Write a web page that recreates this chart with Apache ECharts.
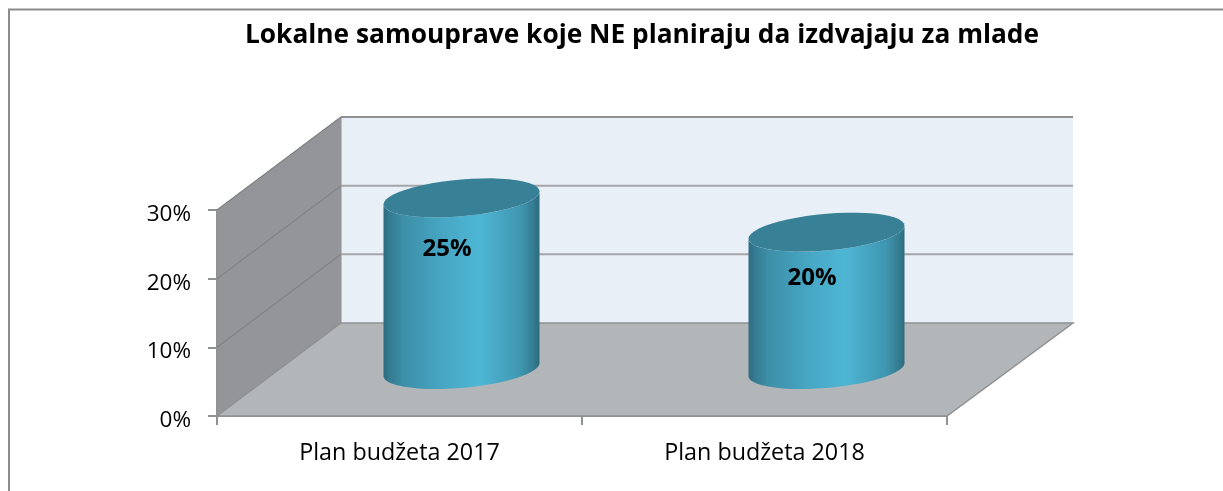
<!DOCTYPE html>
<html>
<head>
<meta charset="utf-8">
<script src="https://cdn.jsdelivr.net/npm/echarts@6/dist/echarts.min.js"></script>
<style>
  html, body { margin: 0; padding: 0; background: #fff; }
  #chart { width: 1223px; height: 491px; }
</style>
</head>
<body>
<div id="chart"></div>
<script>
const categories = ['Plan budžeta 2017', 'Plan budžeta 2018'];
const values = [0.25, 0.2];
const yTicks = [0, 0.1, 0.2, 0.3];
const titleText = 'Lokalne samouprave koje NE planiraju da izdvajaju za mlade';

// how far the back wall is pushed from the front plane
const depthX = 124;
const depthY = -93;
const backExtra = 2;
const lineColor = '#8f9193';
const labelNudge = [5, -1];

const chart = echarts.init(document.getElementById('chart'), null, { renderer: 'canvas' });

function renderRoom(params, api) {
  const yMax = yTicks[yTicks.length - 1];
  const frontL = api.coord([0, 0]);
  const bandW = api.size([1, 0])[0];
  const x0 = frontL[0] - bandW / 2;
  const x1 = x0 + bandW * categories.length;
  const y0 = frontL[1];
  const yTop = api.coord([0, yMax])[1];
  const backR = x1 + depthX + backExtra;
  const children = [
    // back wall
    { type: 'rect', shape: { x: x0 + depthX, y: yTop + depthY, width: backR - x0 - depthX, height: y0 - yTop },
      style: { fill: '#e8eff7' } },
    // left wall
    { type: 'polygon', shape: { points: [[x0, y0], [x0, yTop], [x0 + depthX, yTop + depthY], [x0 + depthX, y0 + depthY]] },
      style: { fill: '#939598', stroke: lineColor, lineWidth: 1 } },
    // floor
    { type: 'polygon', shape: { points: [[x0, y0], [x1, y0], [backR, y0 + depthY], [x0 + depthX, y0 + depthY]] },
      style: { fill: '#b2b6b9', stroke: lineColor, lineWidth: 1.5 } }
  ];
  yTicks.forEach(function (t) {
    if (t === 0) return;
    const y = api.coord([0, t])[1];
    children.push({ type: 'line',
      shape: { x1: x0, y1: y, x2: x0 + depthX, y2: y + depthY },
      style: { stroke: '#808285', lineWidth: 1.2 } });
    children.push({ type: 'line',
      shape: { x1: x0 + depthX, y1: y + depthY, x2: backR, y2: y + depthY },
      style: { stroke: t === yMax ? lineColor : '#a3a5a7', lineWidth: 2 } });
  });
  return { type: 'group', children: children };
}

function ellipsePts(cx, cy, a, tilt, b, from, to) {
  const pts = [];
  for (let i = 0; i <= 48; i++) {
    const t = from + (to - from) * i / 48;
    pts.push([cx + a * Math.cos(t), cy - tilt * Math.cos(t) + b * Math.sin(t)]);
  }
  return pts;
}

function renderCylinder(params, api) {
  const cat = api.value(0);
  const val = api.value(1);
  const base = api.coord([cat, 0]);
  const top = api.coord([cat, val]);
  const cx = base[0] + depthX / 2;
  const cyBase = base[1] + depthY / 2;
  const cyTop = top[1] + depthY / 2;
  const a = 78;
  const tilt = 6.5;
  const b = 18.4;
  const body = ellipsePts(cx, cyBase, a, tilt, b, 0, Math.PI)
    .concat(ellipsePts(cx, cyTop, a, tilt, b, Math.PI, 0));
  return { type: 'group', children: [
    { type: 'polygon', shape: { points: body },
      style: { fill: new echarts.graphic.LinearGradient(0, 0, 1, 0, [
        { offset: 0, color: '#2f6b80' },
        { offset: 0.04, color: '#357c92' },
        { offset: 0.13, color: '#3d8fa8' },
        { offset: 0.4, color: '#47a8c5' },
        { offset: 0.62, color: '#4eb6d5' },
        { offset: 0.88, color: '#3f96b0' },
        { offset: 0.96, color: '#357d92' },
        { offset: 1, color: '#2c6a7c' }
      ]) } },
    { type: 'polygon', shape: { points: ellipsePts(cx, cyTop, a, tilt, b, 0, Math.PI * 2) },
      style: { fill: '#378096' } }
  ] };
}

function renderLabel(params, api) {
  const p = api.coord([api.value(0), api.value(1)]);
  return { type: 'text', style: {
    x: p[0] + 47.5, y: p[1] + labelNudge[params.dataIndex],
    text: Math.round(api.value(1) * 100) + '%',
    fill: '#000', font: 'bold 24px "Open Sans"', align: 'center', verticalAlign: 'middle'
  } };
}

const seriesData = categories.map(function (c, i) { return [i, values[i]]; });

chart.setOption({
  animation: false,
  backgroundColor: '#ffffff',
  title: {
    text: titleText,
    left: 637, top: 18, textAlign: 'center',
    textStyle: { fontFamily: 'Open Sans', fontWeight: 'bold', fontSize: 26.3, color: '#000' }
  },
  graphic: [{
    type: 'polyline', silent: true,
    shape: { points: [[9, 491], [9, 9.5], [1223, 9.5]] },
    style: { fill: 'none', stroke: '#8c8c8c', lineWidth: 2 }
  }],
  grid: { left: 217, width: 730, top: 210, height: 206 },
  xAxis: {
    type: 'category',
    data: categories,
    axisLine: { lineStyle: { color: lineColor, width: 2 } },
    axisTick: { show: true, length: 9, lineStyle: { color: lineColor, width: 2 } },
    axisLabel: { fontFamily: 'Open Sans', fontSize: 23.3, color: '#000', margin: 26 }
  },
  yAxis: {
    type: 'value',
    min: 0,
    max: 0.3,
    interval: 0.1,
    splitLine: { show: false },
    axisLine: { show: true, lineStyle: { color: lineColor, width: 2 } },
    axisTick: { show: true, length: 9, lineStyle: { color: lineColor, width: 2 } },
    axisLabel: { fontFamily: 'Open Sans', fontSize: 22.5, color: '#000', margin: 26, verticalAlign: 'top', lineHeight: 9,
      formatter: function (v) { return Math.round(v * 100) + '%'; } }
  },
  series: [
    { type: 'custom', renderItem: renderRoom, data: [[0, 0]], clip: false, silent: true, z: 1 },
    { type: 'custom', renderItem: renderCylinder, data: seriesData, clip: false, silent: true, z: 2,
      encode: { x: 0, y: 1 } },
    { type: 'custom', renderItem: renderLabel, data: seriesData, clip: false, silent: true, z: 3,
      encode: { x: 0, y: 1 } }
  ]
});
</script>
</body>
</html>
